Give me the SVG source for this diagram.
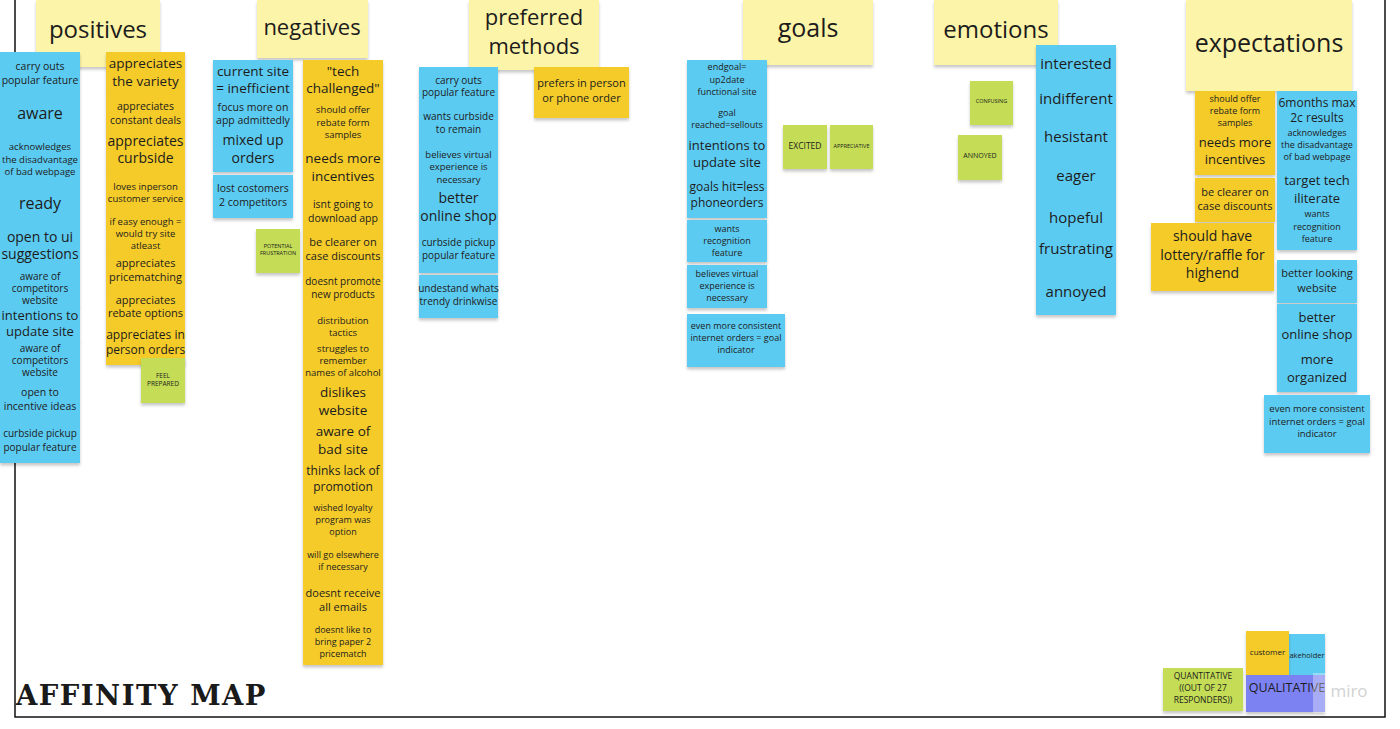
<svg xmlns="http://www.w3.org/2000/svg" width="1400" height="729" viewBox="0 0 1400 729">
<defs>
<filter id="sh" x="-10%" y="-10%" width="120%" height="130%">
<feDropShadow dx="0" dy="2.5" stdDeviation="1.8" flood-color="#000" flood-opacity="0.22"/>
</filter>
</defs>
<style>
text{font-family:"Open Sans","Noto Sans","Liberation Sans",sans-serif;fill:#1c1c1c;text-anchor:middle}
text.title{font-family:"DejaVu Serif","DejaVu Serif Condensed","Liberation Serif",serif;text-anchor:start;fill:#1a1a1a;font-weight:bold}
.b{fill:#5ccbf2;filter:url(#sh)}
.y{fill:#f5cb2a;filter:url(#sh)}
.g{fill:#c4dc56;filter:url(#sh)}
.h{fill:#fcf4a8;filter:url(#sh)}
.p{fill:#7c82f2;filter:url(#sh)}
.s9{font-size:9px}.s95{font-size:9.5px}.s10{font-size:10px}.s105{font-size:10.5px}.s11{font-size:11px}.s12{font-size:12px}.s13{font-size:13px}.s135{font-size:13.5px}.s14{font-size:14px}.s15{font-size:15px}.s16{font-size:16px}
.t{font-size:5.5px}
</style>
<rect width="1400" height="729" fill="#fff"/>
<rect x="15" y="-5" width="1370" height="722" fill="none" stroke="#111" stroke-width="1.5"/>

<g id="headers">
<g id="h-positives"><rect class="h" x="36" y="0" width="124" height="67"/><text x="98" y="38" font-size="24">positives</text></g>
<g id="h-negatives"><rect class="h" x="257" y="0" width="111" height="58"/><text x="312" y="35" font-size="22">negatives</text></g>
<g id="h-preferred"><rect class="h" x="469" y="0" width="130" height="70"/><text x="534" y="25" font-size="22">preferred</text><text x="534" y="54" font-size="22">methods</text></g>
<g id="h-goals"><rect class="h" x="743" y="0" width="130" height="65"/><text x="808" y="37" font-size="25">goals</text></g>
<g id="h-emotions"><rect class="h" x="934" y="0" width="124" height="65"/><text x="996" y="38" font-size="24">emotions</text></g>
<g id="h-expectations"><rect class="h" x="1186" y="0" width="166" height="91"/><text x="1269" y="52" font-size="25">expectations</text></g>
</g>

<g id="positives-blue">
<g id="pb1"><rect class="b" x="0" y="52" width="80" height="43"/><text class="s105" x="40"><tspan x="40" y="70">carry outs</tspan><tspan x="40" y="84">popular feature</tspan></text></g>
<g id="pb2"><rect class="b" x="0" y="95" width="80" height="45"/><text class="s16" x="40" y="119">aware</text></g>
<g id="pb3"><rect class="b" x="0" y="140" width="80" height="42"/><text class="s95"><tspan x="40" y="150">acknowledges</tspan><tspan x="40" y="163">the disadvantage</tspan><tspan x="40" y="175">of bad webpage</tspan></text></g>
<g id="pb4"><rect class="b" x="0" y="182" width="80" height="43"/><text class="s16" x="40" y="209">ready</text></g>
<g id="pb5"><rect class="b" x="0" y="225" width="80" height="43"/><text class="s14"><tspan x="40" y="242">open to ui</tspan><tspan x="40" y="259">suggestions</tspan></text></g>
<g id="pb6"><rect class="b" x="0" y="268" width="80" height="38"/><text class="s10"><tspan x="40" y="280">aware of</tspan><tspan x="40" y="292">competitors</tspan><tspan x="40" y="304">website</tspan></text></g>
<g id="pb7"><rect class="b" x="0" y="305" width="80" height="36"/><text class="s13"><tspan x="40" y="320">intentions to</tspan><tspan x="40" y="336">update site</tspan></text></g>
<g id="pb8"><rect class="b" x="0" y="340" width="80" height="42"/><text class="s10"><tspan x="40" y="352">aware of</tspan><tspan x="40" y="364">competitors</tspan><tspan x="40" y="376">website</tspan></text></g>
<g id="pb9"><rect class="b" x="0" y="382" width="80" height="38"/><text class="s105"><tspan x="40" y="396">open to</tspan><tspan x="40" y="410">incentive ideas</tspan></text></g>
<g id="pb10"><rect class="b" x="0" y="420" width="80" height="43"/><text class="s10"><tspan x="40" y="437">curbside pickup</tspan><tspan x="40" y="451">popular feature</tspan></text></g>
</g>

<g id="positives-yellow">
<g id="py1"><rect class="y" x="106" y="52" width="79" height="43"/><text class="s135"><tspan x="145.5" y="68">appreciates</tspan><tspan x="145.5" y="86">the variety</tspan></text></g>
<g id="py2"><rect class="y" x="106" y="95" width="79" height="35"/><text class="s105"><tspan x="145.5" y="110">appreciates</tspan><tspan x="145.5" y="124">constant deals</tspan></text></g>
<g id="py3"><rect class="y" x="106" y="130" width="79" height="42"/><text class="s14"><tspan x="145.5" y="146">appreciates</tspan><tspan x="145.5" y="163">curbside</tspan></text></g>
<g id="py4"><rect class="y" x="106" y="172" width="79" height="38"/><text class="s95"><tspan x="145.5" y="190">loves inperson</tspan><tspan x="145.5" y="202">customer service</tspan></text></g>
<g id="py5"><rect class="y" x="106" y="210" width="79" height="45"/><text class="s95"><tspan x="145.5" y="225">if easy enough =</tspan><tspan x="145.5" y="237">would try site</tspan><tspan x="145.5" y="249">atleast</tspan></text></g>
<g id="py6"><rect class="y" x="106" y="255" width="79" height="35"/><text class="s11"><tspan x="145.5" y="267">appreciates</tspan><tspan x="145.5" y="281">pricematching</tspan></text></g>
<g id="py7"><rect class="y" x="106" y="290" width="79" height="35"/><text class="s11"><tspan x="145.5" y="304">appreciates</tspan><tspan x="145.5" y="317">rebate options</tspan></text></g>
<g id="py8"><rect class="y" x="106" y="325" width="79" height="40"/><text class="s12"><tspan x="145.5" y="339">appreciates in</tspan><tspan x="145.5" y="354">person orders</tspan></text></g>
<g id="pg1"><rect class="g" x="141" y="358" width="44" height="45"/><text font-size="6.5"><tspan x="163" y="378">FEEL</tspan><tspan x="163" y="386">PREPARED</tspan></text></g>
</g>

<g id="negatives-blue">
<g id="nb1"><rect class="b" x="213" y="60" width="80" height="40"/><text class="s135"><tspan x="253" y="76">current site</tspan><tspan x="253" y="93">= inefficient</tspan></text></g>
<g id="nb2"><rect class="b" x="213" y="100" width="80" height="30"/><text class="s105"><tspan x="253" y="111">focus more on</tspan><tspan x="253" y="124">app admittedly</tspan></text></g>
<g id="nb3"><rect class="b" x="213" y="130" width="80" height="42"/><text class="s14"><tspan x="253" y="145">mixed up</tspan><tspan x="253" y="163">orders</tspan></text></g>
<g id="nb4"><rect class="b" x="213" y="175" width="80" height="43"/><text class="s105"><tspan x="253" y="192">lost costomers</tspan><tspan x="253" y="206">2 competitors</tspan></text></g>
<g id="ng1"><rect class="g" x="256" y="229" width="44" height="44"/><text class="t"><tspan x="278" y="248">POTENTIAL</tspan><tspan x="278" y="255">FRUSTRATION</tspan></text></g>
</g>

<g id="negatives-yellow">
<g id="ny1"><rect class="y" x="303" y="60" width="80" height="40"/><text class="s135"><tspan x="343" y="76">"tech</tspan><tspan x="343" y="93">challenged"</tspan></text></g>
<g id="ny2"><rect class="y" x="303" y="100" width="80" height="45"/><text class="s95"><tspan x="343" y="113">should offer</tspan><tspan x="343" y="126">rebate form</tspan><tspan x="343" y="138">samples</tspan></text></g>
<g id="ny3"><rect class="y" x="303" y="145" width="80" height="45"/><text class="s135"><tspan x="343" y="163">needs more</tspan><tspan x="343" y="181">incentives</tspan></text></g>
<g id="ny4"><rect class="y" x="303" y="190" width="80" height="40"/><text class="s105"><tspan x="343" y="208">isnt going to</tspan><tspan x="343" y="222">download app</tspan></text></g>
<g id="ny5"><rect class="y" x="303" y="230" width="80" height="40"/><text class="s11"><tspan x="343" y="246">be clearer on</tspan><tspan x="343" y="260">case discounts</tspan></text></g>
<g id="ny6"><rect class="y" x="303" y="270" width="80" height="40"/><text class="s10"><tspan x="343" y="285">doesnt promote</tspan><tspan x="343" y="298">new products</tspan></text></g>
<g id="ny7"><rect class="y" x="303" y="310" width="80" height="28"/><text class="s95"><tspan x="343" y="324">distribution</tspan><tspan x="343" y="336">tactics</tspan></text></g>
<g id="ny8"><rect class="y" x="303" y="338" width="80" height="44"/><text class="s95"><tspan x="343" y="352">struggles to</tspan><tspan x="343" y="364">remember</tspan><tspan x="343" y="376">names of alcohol</tspan></text></g>
<g id="ny9"><rect class="y" x="303" y="382" width="80" height="40"/><text class="s135"><tspan x="343" y="397">dislikes</tspan><tspan x="343" y="415">website</tspan></text></g>
<g id="ny10"><rect class="y" x="303" y="422" width="80" height="40"/><text class="s135"><tspan x="343" y="436">aware of</tspan><tspan x="343" y="454">bad site</tspan></text></g>
<g id="ny11"><rect class="y" x="303" y="462" width="80" height="38"/><text class="s12"><tspan x="343" y="475">thinks lack of</tspan><tspan x="343" y="491">promotion</tspan></text></g>
<g id="ny12"><rect class="y" x="303" y="500" width="80" height="43"/><text class="s9"><tspan x="343" y="511">wished loyalty</tspan><tspan x="343" y="523">program was</tspan><tspan x="343" y="535">option</tspan></text></g>
<g id="ny13"><rect class="y" x="303" y="543" width="80" height="37"/><text class="s9"><tspan x="343" y="558">will go elsewhere</tspan><tspan x="343" y="570">if necessary</tspan></text></g>
<g id="ny14"><rect class="y" x="303" y="580" width="80" height="38"/><text class="s11"><tspan x="343" y="597">doesnt receive</tspan><tspan x="343" y="611">all emails</tspan></text></g>
<g id="ny15"><rect class="y" x="303" y="618" width="80" height="47"/><text class="s9"><tspan x="343" y="633">doesnt like to</tspan><tspan x="343" y="645">bring paper 2</tspan><tspan x="343" y="657">pricematch</tspan></text></g>
</g>

<g id="preferred-methods">
<g id="mb1"><rect class="b" x="419" y="67" width="79" height="41"/><text class="s10"><tspan x="458.5" y="84">carry outs</tspan><tspan x="458.5" y="96">popular feature</tspan></text></g>
<g id="mb2"><rect class="b" x="419" y="108" width="79" height="39"/><text class="s10"><tspan x="458.5" y="120">wants curbside</tspan><tspan x="458.5" y="133">to remain</tspan></text></g>
<g id="mb3"><rect class="b" x="419" y="147" width="79" height="41"/><text class="s95"><tspan x="458.5" y="158">believes virtual</tspan><tspan x="458.5" y="170">experience is</tspan><tspan x="458.5" y="183">necessary</tspan></text></g>
<g id="mb4"><rect class="b" x="419" y="188" width="79" height="40"/><text class="s14"><tspan x="458.5" y="203">better</tspan><tspan x="458.5" y="221">online shop</tspan></text></g>
<g id="mb5"><rect class="b" x="419" y="228" width="79" height="45"/><text class="s10"><tspan x="458.5" y="246">curbside pickup</tspan><tspan x="458.5" y="259">popular feature</tspan></text></g>
<g id="mb6"><rect class="b" x="419" y="275" width="79" height="43"/><text class="s10"><tspan x="458.5" y="292">undestand whats</tspan><tspan x="458.5" y="305">trendy drinkwise</tspan></text></g>
<g id="my1"><rect class="y" x="534" y="67" width="95" height="51"/><text class="s11"><tspan x="581.5" y="87">prefers in person</tspan><tspan x="581.5" y="102">or phone order</tspan></text></g>
</g>

<g id="goals">
<g id="gb1"><rect class="b" x="687" y="60" width="80" height="43"/><text class="s9"><tspan x="727" y="70">endgoal=</tspan><tspan x="727" y="83">up2date</tspan><tspan x="727" y="95">functional site</tspan></text></g>
<g id="gb2"><rect class="b" x="687" y="103" width="80" height="32"/><text class="s9"><tspan x="727" y="116">goal</tspan><tspan x="727" y="128">reached=sellouts</tspan></text></g>
<g id="gb3"><rect class="b" x="687" y="135" width="80" height="40"/><text class="s13"><tspan x="727" y="150">intentions to</tspan><tspan x="727" y="167">update site</tspan></text></g>
<g id="gb4"><rect class="b" x="687" y="175" width="80" height="43"/><text class="s12"><tspan x="727" y="191">goals hit=less</tspan><tspan x="727" y="207">phoneorders</tspan></text></g>
<g id="gb5"><rect class="b" x="687" y="220" width="80" height="42"/><text class="s9"><tspan x="727" y="232">wants</tspan><tspan x="727" y="244">recognition</tspan><tspan x="727" y="256">feature</tspan></text></g>
<g id="gb6"><rect class="b" x="687" y="265" width="80" height="43"/><text class="s9"><tspan x="727" y="277">believes virtual</tspan><tspan x="727" y="289">experience is</tspan><tspan x="727" y="301">necessary</tspan></text></g>
<g id="gb7"><rect class="b" x="687" y="314" width="98" height="53"/><text class="s9"><tspan x="736" y="329">even more consistent</tspan><tspan x="736" y="341">internet orders = goal</tspan><tspan x="736" y="353">indicator</tspan></text></g>
<g id="gg1"><rect class="g" x="783" y="125" width="44" height="44"/><text font-size="8.5" x="805" y="149">EXCITED</text></g>
<g id="gg2"><rect class="g" x="830" y="125" width="43" height="44"/><text class="t" x="851.5" y="148">APPRECIATIVE</text></g>
</g>

<g id="emotions">
<g id="eg1"><rect class="g" x="970" y="81" width="43" height="44"/><text class="t" x="991.5" y="103">CONFUSING</text></g>
<g id="eg2"><rect class="g" x="958" y="135" width="44" height="45"/><text font-size="7" x="980" y="158">ANNOYED</text></g>
<g id="eb1"><rect class="b" x="1036" y="45" width="80" height="43"/><text class="s15" x="1076" y="69">interested</text></g>
<g id="eb2"><rect class="b" x="1036" y="88" width="80" height="30"/><text class="s15" x="1076" y="104">indifferent</text></g>
<g id="eb3"><rect class="b" x="1036" y="118" width="80" height="39"/><text class="s15" x="1076" y="142">hesistant</text></g>
<g id="eb4"><rect class="b" x="1036" y="157" width="80" height="40"/><text class="s15" x="1076" y="181">eager</text></g>
<g id="eb5"><rect class="b" x="1036" y="197" width="80" height="43"/><text class="s15" x="1076" y="223">hopeful</text></g>
<g id="eb6"><rect class="b" x="1036" y="240" width="80" height="30"/><text class="s15" x="1076" y="254">frustrating</text></g>
<g id="eb7"><rect class="b" x="1036" y="270" width="80" height="45"/><text class="s15" x="1076" y="297">annoyed</text></g>
</g>

<g id="expectations">
<g id="xy1"><rect class="y" x="1195" y="91" width="80" height="41"/><text class="s9"><tspan x="1235" y="102">should offer</tspan><tspan x="1235" y="114">rebate form</tspan><tspan x="1235" y="126">samples</tspan></text></g>
<g id="xy2"><rect class="y" x="1195" y="132" width="80" height="43"/><text class="s13"><tspan x="1235" y="147">needs more</tspan><tspan x="1235" y="164">incentives</tspan></text></g>
<g id="xy3"><rect class="y" x="1195" y="178" width="80" height="44"/><text class="s11"><tspan x="1235" y="196">be clearer on</tspan><tspan x="1235" y="210">case discounts</tspan></text></g>
<g id="xy4"><rect class="y" x="1151" y="223" width="123" height="68"/><text class="s14"><tspan x="1212.5" y="241">should have</tspan><tspan x="1212.5" y="260">lottery/raffle for</tspan><tspan x="1212.5" y="278">highend</tspan></text></g>
<g id="xb1"><rect class="b" x="1277" y="91" width="80" height="37"/><text class="s12"><tspan x="1317" y="107">6months max</tspan><tspan x="1317" y="122">2c results</tspan></text></g>
<g id="xb2"><rect class="b" x="1277" y="128" width="80" height="40"/><text class="s9"><tspan x="1317" y="136">acknowledges</tspan><tspan x="1317" y="148">the disadvantage</tspan><tspan x="1317" y="160">of bad webpage</tspan></text></g>
<g id="xb3"><rect class="b" x="1277" y="168" width="80" height="37"/><text class="s13"><tspan x="1317" y="185">target tech</tspan><tspan x="1317" y="203">iliterate</tspan></text></g>
<g id="xb4"><rect class="b" x="1277" y="205" width="80" height="45"/><text class="s9"><tspan x="1317" y="217">wants</tspan><tspan x="1317" y="230">recognition</tspan><tspan x="1317" y="242">feature</tspan></text></g>
<g id="xb5"><rect class="b" x="1277" y="260" width="80" height="43"/><text class="s11"><tspan x="1317" y="277">better looking</tspan><tspan x="1317" y="292">website</tspan></text></g>
<g id="xb6"><rect class="b" x="1277" y="304" width="80" height="46"/><text class="s13"><tspan x="1317" y="322">better</tspan><tspan x="1317" y="339">online shop</tspan></text></g>
<g id="xb7"><rect class="b" x="1277" y="350" width="80" height="42"/><text class="s13"><tspan x="1317" y="364">more</tspan><tspan x="1317" y="382">organized</tspan></text></g>
<g id="xb8"><rect class="b" x="1264" y="395" width="106" height="58"/><text class="s95"><tspan x="1317" y="412">even more consistent</tspan><tspan x="1317" y="425">internet orders = goal</tspan><tspan x="1317" y="437">indicator</tspan></text></g>
</g>

<g id="legend">
<g id="l-quant"><rect class="g" x="1163" y="668" width="80" height="43"/><text font-size="8.5"><tspan x="1203" y="679">QUANTITATIVE</tspan><tspan x="1203" y="691">((OUT OF 27</tspan><tspan x="1203" y="703">RESPONDERS))</tspan></text></g>
<g id="l-stake"><rect class="b" x="1262" y="634" width="63" height="41"/><text font-size="7.5" x="1307" y="658">akeholder</text></g>
<g id="l-customer"><rect class="y" x="1246" y="631" width="43" height="44"/><text font-size="8" x="1267.5" y="655">customer</text></g>
<g id="l-qual"><rect class="p" x="1246" y="675" width="79" height="37"/><text font-size="12.5" x="1287" y="692">QUALITATIVE</text></g>
</g>
<rect x="1313" y="673" width="14" height="40" fill="#fff" opacity="0.35"/>
<text x="1349" y="697" font-size="17" style="fill:#d2d2d2">miro</text>

<text class="title" x="16" y="705" font-size="28" letter-spacing="1.5" textLength="251" lengthAdjust="spacingAndGlyphs">AFFINITY MAP</text>
</svg>
